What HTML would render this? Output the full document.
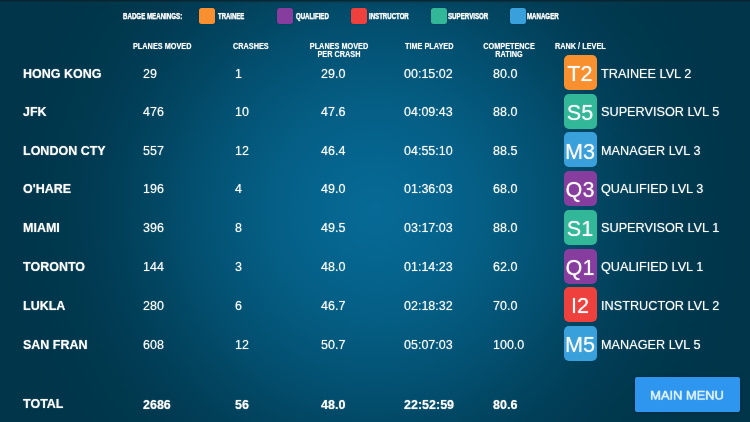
<!DOCTYPE html>
<html><head><meta charset="utf-8"><title>Stats</title>
<style>
html,body{margin:0;padding:0;}
body{width:750px;height:422px;overflow:hidden;position:relative;font-family:"Liberation Sans",sans-serif;color:#fff;
background:#00354a radial-gradient(circle 375px at 375px 211px,#066a96 0.0%,#066994 4.0%,#066792 8.0%,#066690 12.0%,#05648d 16.0%,#05628b 20.0%,#056088 24.0%,#055e85 28.0%,#045c81 32.0%,#04597d 36.0%,#045679 40.0%,#035375 44.0%,#035071 48.0%,#034d6c 52.0%,#024967 56.0%,#024662 60.0%,#02435e 64.0%,#014059 68.0%,#013d56 72.0%,#013b53 76.0%,#013950 80.0%,#00384e 84.0%,#00374d 88.0%,#00364c 92.0%,#00354b 96.0%,#00354a 100.0%);}
.topline{position:absolute;left:0;top:0;width:750px;height:5px;background:linear-gradient(rgba(8,30,40,.95) 0,rgba(10,40,52,.55) 1.5px,rgba(20,60,75,.25) 3px,rgba(20,60,75,0) 5px);}
#layer{position:absolute;left:0;top:0;width:750px;height:422px;will-change:transform;}
.t{position:absolute;white-space:nowrap;line-height:1;transform-origin:0 0;text-shadow:0 0 2.4px rgba(255,255,255,.55);}
.c{text-align:center;transform-origin:50% 0;}
.bd{font-weight:bold;}
.lg{font-weight:bold;-webkit-text-stroke:.5px #fff;}
.lb{position:absolute;top:7.9px;width:16.2px;height:16.3px;border-radius:2.5px;box-shadow:0 0 1px rgba(0,10,20,.6);}
.b{position:absolute;left:563.5px;width:33.5px;height:35px;border-radius:5px;}
.T{background:#f99030;}.S{background:#33b799;}.M{background:#3aa0db;}.Q{background:#873d9e;}.I{background:#ee403c;}
.btn{position:absolute;left:635px;top:377px;width:105px;height:35px;border-radius:2px;background:#2f96f0;box-shadow:0 0 3px rgba(0,20,35,.5);}
.bt{color:#dcf1ff;-webkit-text-stroke:.9px #dcf1ff;}
</style></head><body>
<div class="topline"></div>
<div id="layer">

<div class="t lg" style="left:123.10px;top:12.19px;font-size:16.80px;transform:scale(0.3670,0.5000);">BADGE MEANINGS:</div>
<div class="lb T" style="left:198.8px"></div>
<div class="t lg" style="left:218.20px;top:12.19px;font-size:16.80px;transform:scale(0.3580,0.5000);">TRAINEE</div>
<div class="lb Q" style="left:277.1px"></div>
<div class="t lg" style="left:296.30px;top:12.19px;font-size:16.80px;transform:scale(0.3625,0.5000);">QUALIFIED</div>
<div class="lb I" style="left:350.6px"></div>
<div class="t lg" style="left:368.80px;top:12.19px;font-size:16.80px;transform:scale(0.3625,0.5000);">INSTRUCTOR</div>
<div class="lb S" style="left:430.8px"></div>
<div class="t lg" style="left:448.10px;top:12.19px;font-size:16.80px;transform:scale(0.3675,0.5000);">SUPERVISOR</div>
<div class="lb M" style="left:509.6px"></div>
<div class="t lg" style="left:527.10px;top:12.19px;font-size:16.80px;transform:scale(0.3650,0.5000);">MANAGER</div>
<div class="t bd" style="left:133.20px;top:42.27px;font-size:16.60px;transform:scale(0.4400,0.5000);">PLANES MOVED</div>
<div class="t bd" style="left:232.70px;top:42.27px;font-size:16.60px;transform:scale(0.4400,0.5000);">CRASHES</div>
<div class="t c bd" style="left:139.40px;top:42.22px;width:400px;font-size:16.60px;line-height:16.80px;transform:scale(0.4400,0.5000);">PLANES MOVED<br>PER CRASH</div>
<div class="t bd" style="left:405.40px;top:42.27px;font-size:16.60px;transform:scale(0.4400,0.5000);">TIME PLAYED</div>
<div class="t c bd" style="left:309.20px;top:42.22px;width:400px;font-size:16.60px;line-height:16.80px;transform:scale(0.4400,0.5000);">COMPETENCE<br>RATING</div>
<div class="t bd" style="left:554.60px;top:42.27px;font-size:16.60px;transform:scale(0.4400,0.5000);">RANK / LEVEL</div>
<div class="t bd" style="left:23.30px;top:67.04px;font-size:26.60px;transform:scale(0.4700,0.5000);">HONG KONG</div>
<div class="t " style="left:143.20px;top:67.04px;font-size:26.60px;transform:scale(0.4700,0.5000);">29</div>
<div class="t " style="left:235.20px;top:67.04px;font-size:26.60px;transform:scale(0.4700,0.5000);">1</div>
<div class="t " style="left:320.60px;top:67.04px;font-size:26.60px;transform:scale(0.4700,0.5000);">29.0</div>
<div class="t " style="left:404.10px;top:67.04px;font-size:26.60px;transform:scale(0.4700,0.5000);">00:15:02</div>
<div class="t " style="left:493.10px;top:67.04px;font-size:26.60px;transform:scale(0.4700,0.5000);">80.0</div>
<div class="b T" style="top:55.10px"></div>
<div class="t c " style="left:380.25px;top:56.27px;width:400px;font-size:44.60px;line-height:70.00px;transform:scale(0.4850,0.5000);">T2</div>
<div class="t " style="left:601.00px;top:66.87px;font-size:27.00px;transform:scale(0.4700,0.5000);">TRAINEE LVL 2</div>
<div class="t bd" style="left:23.30px;top:105.04px;font-size:26.60px;transform:scale(0.4700,0.5000);">JFK</div>
<div class="t " style="left:143.20px;top:105.04px;font-size:26.60px;transform:scale(0.4700,0.5000);">476</div>
<div class="t " style="left:235.20px;top:105.04px;font-size:26.60px;transform:scale(0.4700,0.5000);">10</div>
<div class="t " style="left:320.60px;top:105.04px;font-size:26.60px;transform:scale(0.4700,0.5000);">47.6</div>
<div class="t " style="left:404.10px;top:105.04px;font-size:26.60px;transform:scale(0.4700,0.5000);">04:09:43</div>
<div class="t " style="left:493.10px;top:105.04px;font-size:26.60px;transform:scale(0.4700,0.5000);">88.0</div>
<div class="b S" style="top:93.78px"></div>
<div class="t c " style="left:380.25px;top:94.95px;width:400px;font-size:44.60px;line-height:70.00px;transform:scale(0.4850,0.5000);">S5</div>
<div class="t " style="left:601.00px;top:104.87px;font-size:27.00px;transform:scale(0.4700,0.5000);">SUPERVISOR LVL 5</div>
<div class="t bd" style="left:23.30px;top:144.04px;font-size:26.60px;transform:scale(0.4700,0.5000);">LONDON CTY</div>
<div class="t " style="left:143.20px;top:144.04px;font-size:26.60px;transform:scale(0.4700,0.5000);">557</div>
<div class="t " style="left:235.20px;top:144.04px;font-size:26.60px;transform:scale(0.4700,0.5000);">12</div>
<div class="t " style="left:320.60px;top:144.04px;font-size:26.60px;transform:scale(0.4700,0.5000);">46.4</div>
<div class="t " style="left:404.10px;top:144.04px;font-size:26.60px;transform:scale(0.4700,0.5000);">04:55:10</div>
<div class="t " style="left:493.10px;top:144.04px;font-size:26.60px;transform:scale(0.4700,0.5000);">88.5</div>
<div class="b M" style="top:132.46px"></div>
<div class="t c " style="left:380.25px;top:133.63px;width:400px;font-size:44.60px;line-height:70.00px;transform:scale(0.4850,0.5000);">M3</div>
<div class="t " style="left:601.00px;top:143.87px;font-size:27.00px;transform:scale(0.4700,0.5000);">MANAGER LVL 3</div>
<div class="t bd" style="left:23.30px;top:182.04px;font-size:26.60px;transform:scale(0.4700,0.5000);">O'HARE</div>
<div class="t " style="left:143.20px;top:182.04px;font-size:26.60px;transform:scale(0.4700,0.5000);">196</div>
<div class="t " style="left:235.20px;top:182.04px;font-size:26.60px;transform:scale(0.4700,0.5000);">4</div>
<div class="t " style="left:320.60px;top:182.04px;font-size:26.60px;transform:scale(0.4700,0.5000);">49.0</div>
<div class="t " style="left:404.10px;top:182.04px;font-size:26.60px;transform:scale(0.4700,0.5000);">01:36:03</div>
<div class="t " style="left:493.10px;top:182.04px;font-size:26.60px;transform:scale(0.4700,0.5000);">68.0</div>
<div class="b Q" style="top:171.14px"></div>
<div class="t c " style="left:380.25px;top:172.31px;width:400px;font-size:44.60px;line-height:70.00px;transform:scale(0.4850,0.5000);">Q3</div>
<div class="t " style="left:601.00px;top:181.87px;font-size:27.00px;transform:scale(0.4700,0.5000);">QUALIFIED LVL 3</div>
<div class="t bd" style="left:23.30px;top:221.04px;font-size:26.60px;transform:scale(0.4700,0.5000);">MIAMI</div>
<div class="t " style="left:143.20px;top:221.04px;font-size:26.60px;transform:scale(0.4700,0.5000);">396</div>
<div class="t " style="left:235.20px;top:221.04px;font-size:26.60px;transform:scale(0.4700,0.5000);">8</div>
<div class="t " style="left:320.60px;top:221.04px;font-size:26.60px;transform:scale(0.4700,0.5000);">49.5</div>
<div class="t " style="left:404.10px;top:221.04px;font-size:26.60px;transform:scale(0.4700,0.5000);">03:17:03</div>
<div class="t " style="left:493.10px;top:221.04px;font-size:26.60px;transform:scale(0.4700,0.5000);">88.0</div>
<div class="b S" style="top:209.82px"></div>
<div class="t c " style="left:380.25px;top:210.99px;width:400px;font-size:44.60px;line-height:70.00px;transform:scale(0.4850,0.5000);">S1</div>
<div class="t " style="left:601.00px;top:220.87px;font-size:27.00px;transform:scale(0.4700,0.5000);">SUPERVISOR LVL 1</div>
<div class="t bd" style="left:23.30px;top:260.04px;font-size:26.60px;transform:scale(0.4700,0.5000);">TORONTO</div>
<div class="t " style="left:143.20px;top:260.04px;font-size:26.60px;transform:scale(0.4700,0.5000);">144</div>
<div class="t " style="left:235.20px;top:260.04px;font-size:26.60px;transform:scale(0.4700,0.5000);">3</div>
<div class="t " style="left:320.60px;top:260.04px;font-size:26.60px;transform:scale(0.4700,0.5000);">48.0</div>
<div class="t " style="left:404.10px;top:260.04px;font-size:26.60px;transform:scale(0.4700,0.5000);">01:14:23</div>
<div class="t " style="left:493.10px;top:260.04px;font-size:26.60px;transform:scale(0.4700,0.5000);">62.0</div>
<div class="b Q" style="top:248.50px"></div>
<div class="t c " style="left:380.25px;top:249.67px;width:400px;font-size:44.60px;line-height:70.00px;transform:scale(0.4850,0.5000);">Q1</div>
<div class="t " style="left:601.00px;top:259.87px;font-size:27.00px;transform:scale(0.4700,0.5000);">QUALIFIED LVL 1</div>
<div class="t bd" style="left:23.30px;top:299.04px;font-size:26.60px;transform:scale(0.4700,0.5000);">LUKLA</div>
<div class="t " style="left:143.20px;top:299.04px;font-size:26.60px;transform:scale(0.4700,0.5000);">280</div>
<div class="t " style="left:235.20px;top:299.04px;font-size:26.60px;transform:scale(0.4700,0.5000);">6</div>
<div class="t " style="left:320.60px;top:299.04px;font-size:26.60px;transform:scale(0.4700,0.5000);">46.7</div>
<div class="t " style="left:404.10px;top:299.04px;font-size:26.60px;transform:scale(0.4700,0.5000);">02:18:32</div>
<div class="t " style="left:493.10px;top:299.04px;font-size:26.60px;transform:scale(0.4700,0.5000);">70.0</div>
<div class="b I" style="top:287.18px"></div>
<div class="t c " style="left:380.25px;top:288.35px;width:400px;font-size:44.60px;line-height:70.00px;transform:scale(0.4850,0.5000);">I2</div>
<div class="t " style="left:601.00px;top:298.87px;font-size:27.00px;transform:scale(0.4700,0.5000);">INSTRUCTOR LVL 2</div>
<div class="t bd" style="left:23.30px;top:338.04px;font-size:26.60px;transform:scale(0.4700,0.5000);">SAN FRAN</div>
<div class="t " style="left:143.20px;top:338.04px;font-size:26.60px;transform:scale(0.4700,0.5000);">608</div>
<div class="t " style="left:235.20px;top:338.04px;font-size:26.60px;transform:scale(0.4700,0.5000);">12</div>
<div class="t " style="left:320.60px;top:338.04px;font-size:26.60px;transform:scale(0.4700,0.5000);">50.7</div>
<div class="t " style="left:404.10px;top:338.04px;font-size:26.60px;transform:scale(0.4700,0.5000);">05:07:03</div>
<div class="t " style="left:493.10px;top:338.04px;font-size:26.60px;transform:scale(0.4700,0.5000);">100.0</div>
<div class="b M" style="top:325.86px"></div>
<div class="t c " style="left:380.25px;top:327.03px;width:400px;font-size:44.60px;line-height:70.00px;transform:scale(0.4850,0.5000);">M5</div>
<div class="t " style="left:601.00px;top:337.87px;font-size:27.00px;transform:scale(0.4700,0.5000);">MANAGER LVL 5</div>
<div class="t bd" style="left:23.30px;top:397.04px;font-size:26.60px;transform:scale(0.4700,0.5000);">TOTAL</div>
<div class="t bd" style="left:143.20px;top:398.04px;font-size:26.60px;transform:scale(0.4700,0.5000);">2686</div>
<div class="t bd" style="left:235.20px;top:398.04px;font-size:26.60px;transform:scale(0.4700,0.5000);">56</div>
<div class="t bd" style="left:320.60px;top:398.04px;font-size:26.60px;transform:scale(0.4700,0.5000);">48.0</div>
<div class="t bd" style="left:404.10px;top:398.04px;font-size:26.60px;transform:scale(0.4700,0.5000);">22:52:59</div>
<div class="t bd" style="left:493.10px;top:398.04px;font-size:26.60px;transform:scale(0.4700,0.5000);">80.6</div>
<div class="btn"></div>
<div class="t c bt" style="left:487.00px;top:377.91px;width:400px;font-size:24.20px;line-height:70.00px;transform:scale(0.5315,0.5000);">MAIN MENU</div>
</div></body></html>
